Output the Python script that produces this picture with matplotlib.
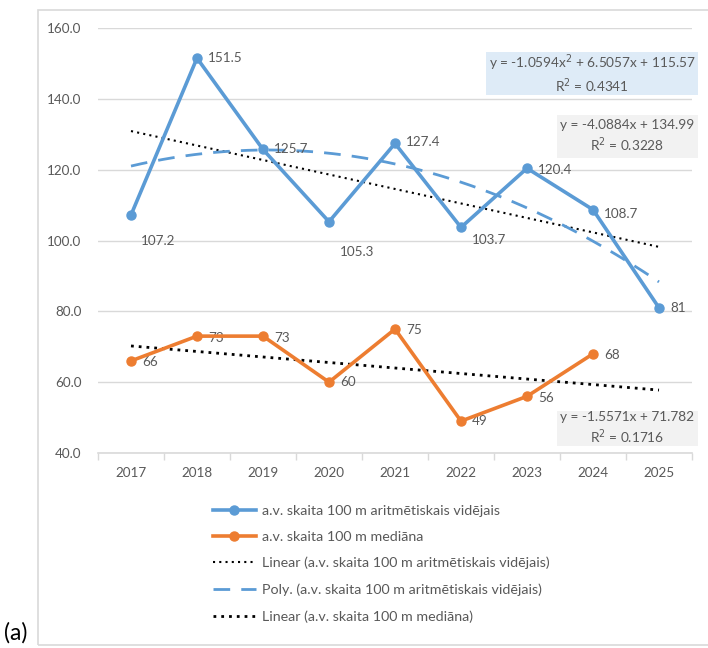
import matplotlib.pyplot as plt
import numpy as np
from matplotlib.patches import Rectangle

plt.rcParams['font.family'] = ['Lato', 'DejaVu Sans']

years = ['2017', '2018', '2019', '2020', '2021', '2022', '2023', '2024', '2025']
mean_vals = [107.2, 151.5, 125.7, 105.3, 127.4, 103.7, 120.4, 108.7, 81]
median_vals = [66, 73, 73, 60, 75, 49, 56, 68]
mean_labels = ['107.2', '151.5', '125.7', '105.3', '127.4', '103.7', '120.4', '108.7', '81']
median_labels = ['66', '73', '73', '60', '75', '49', '56', '68']

# trendline coefficients as printed on the chart (x = 1..9)
lin_mean = [-4.0884, 134.99]
poly_mean = [-1.0594, 6.5057, 115.57]
lin_median = [-1.5571, 71.782]

name_mean = 'a.v. skaita 100 m aritmētiskais vidējais'
name_median = 'a.v. skaita 100 m mediāna'

blue = '#5B9BD5'
orange = '#ED7D31'
grey = '#595959'

W, H = 708, 648
fig = plt.figure(figsize=(W / 100, H / 100), dpi=100)

# chart frame
fig.patches.append(Rectangle((38 / W, 1 - 645 / H), 1.0, (645 - 10) / H,
                             transform=fig.transFigure, fill=False,
                             edgecolor='#d9d9d9', lw=1.2))

ax = fig.add_axes([98 / W, 1 - 453 / H, (692 - 98) / W, (453 - 28) / H])
x = np.arange(1, len(years) + 1)
xm = np.arange(1, len(median_vals) + 1)

ax.set_xlim(0.5, 9.5)
ax.set_ylim(40, 160)
ax.set_yticks(np.arange(40, 161, 20))
ax.set_yticklabels([f'{v:.1f}' for v in np.arange(40, 161, 20)])
ax.set_xticks(x)
ax.set_xticklabels(years)
ax.set_xticks(np.arange(0.5, 9.6, 1), minor=True)
ax.tick_params(axis='x', which='major', length=0, pad=10, colors=grey, labelsize=9.7)
ax.tick_params(axis='x', which='minor', length=5, color='#d9d9d9', width=1)
ax.tick_params(axis='y', length=0, pad=12, colors=grey, labelsize=9.7)
ax.grid(axis='y', color='#d9d9d9', lw=1)
ax.set_axisbelow(True)
for s in ['left', 'right', 'top']:
    ax.spines[s].set_visible(False)
ax.spines['bottom'].set_color('#d9d9d9')
ax.spines['bottom'].set_linewidth(1.2)

ax.plot(x, mean_vals, color=blue, lw=2.6, marker='o', ms=6.5, label=name_mean, zorder=4)
ax.plot(xm, median_vals, color=orange, lw=2.6, marker='o', ms=6.5, label=name_median, zorder=4)

xt = np.linspace(1, 9, 200)
ax.plot(x, np.polyval(lin_mean, x), color='black', lw=1.5, ls=(0, (1, 2)),
        label=f'Linear ({name_mean})', zorder=3)
ax.plot(xt, np.polyval(poly_mean, xt), color=blue, lw=2.0, ls=(0, (6, 4)),
        label=f'Poly. ({name_mean})', zorder=3)
ax.plot(x, np.polyval(lin_median, x), color='black', lw=2.0, ls=(0, (1, 1.8)),
        label=f'Linear ({name_median})', zorder=3)

# data labels (offsets in points)
mean_off = [(7, -19), (8, 0), (8, 0), (8, -22), (8, 1), (8, -9), (8, -1), (8, -3), (8, 0)]
for xi, v, t, o in zip(x, mean_vals, mean_labels, mean_off):
    ax.annotate(t, (xi, v), xytext=o, textcoords='offset points', ha='left', va='center',
                color=grey, fontsize=9.7)
med_off = [(8, -1), (8, -1), (8, -1), (8, 0), (8, -1), (8, 0), (8, -1), (8, -1)]
for xi, v, t, o in zip(xm, median_vals, median_labels, med_off):
    ax.annotate(t, (xi, v), xytext=o, textcoords='offset points', ha='left', va='center',
                color=grey, fontsize=9.7)

# trendline equation boxes
def eq_box(x0, y0, x1, y1, face, text):
    fig.patches.append(Rectangle((x0 / W, 1 - y1 / H), (x1 - x0) / W, (y1 - y0) / H,
                                 transform=fig.transFigure, facecolor=face, edgecolor='none'))
    fig.text((x0 + x1) / 2 / W, 1 - (y0 + y1) / 2 / H, text, ha='center', va='center',
             color=grey, fontsize=9.8, linespacing=1.25)

eq_box(486, 52, 698, 95, '#deebf7', 'y = -1.0594x$^2$ + 6.5057x + 115.57\nR$^2$ = 0.4341')
eq_box(557, 115, 698, 158, '#f2f2f2', 'y = -4.0884x + 134.99\nR$^2$ = 0.3228')
eq_box(557, 411, 698, 446, '#f2f2f2', 'y = -1.5571x + 71.782\nR$^2$ = 0.1716')

handles, labels = ax.get_legend_handles_labels()
fig.legend(handles, labels, loc='upper left', bbox_to_anchor=(200 / W, 1 - 492 / H),
           frameon=False, fontsize=10.3, labelcolor=grey, handlelength=3.0,
           handletextpad=0.4, labelspacing=0.98)

fig.text(4 / W, 1 - 633 / H, '(a)', fontsize=16.5, va='center', ha='left', color='black')

fig.savefig('out.png', dpi=100)
